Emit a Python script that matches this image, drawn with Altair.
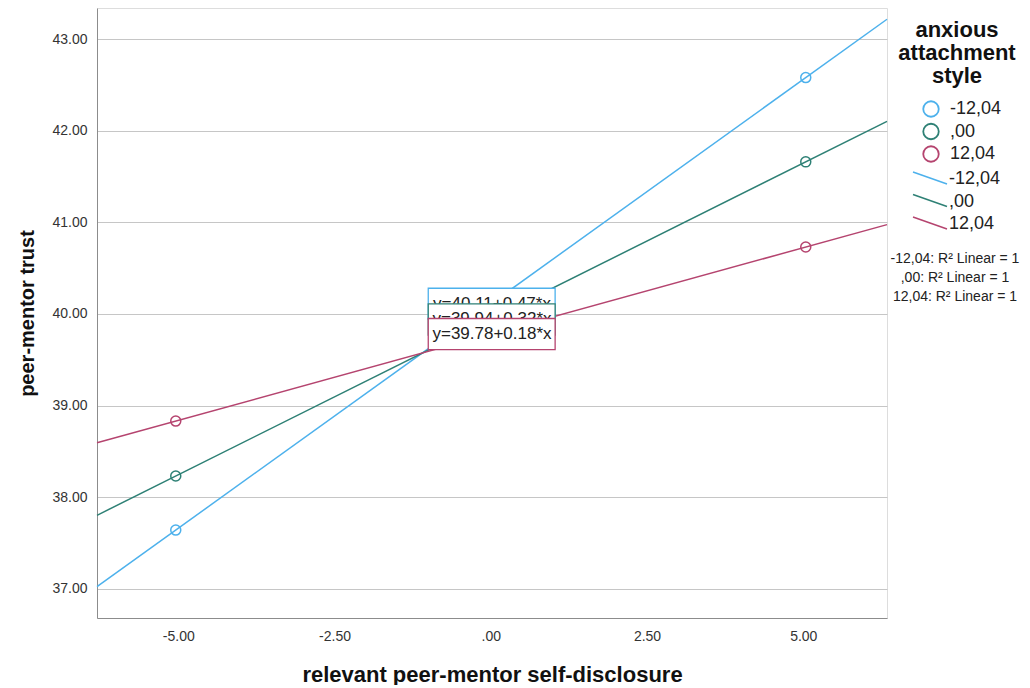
import altair as alt
import pandas as pd

# ---- data ----
groups = ["-12,04", ",00", "12,04"]
colors = ["#4DB1EC", "#2E8075", "#B5446F"]
x_points = [-5.04, 5.04]
y_low = [37.64, 38.23, 38.83]
y_high = [42.58, 41.66, 40.73]
intercepts = [40.11, 39.94, 39.78]
eq_labels = ["y=40.11+0.47*x", "y=39.94+0.32*x", "y=39.78+0.18*x"]
r2_labels = ["-12,04: R² Linear = 1", ",00: R² Linear = 1", "12,04: R² Linear = 1"]
legend_title = ["anxious", "attachment", "style"]
x_ticks = [-5.0, -2.5, 0.0, 2.5, 5.0]
y_ticks = [37, 38, 39, 40, 41, 42, 43]

X_DOMAIN = [-6.3, 6.34]
Y_DOMAIN = [36.68, 43.34]
FONT = "Liberation Sans"

rows = []
for g, lo, hi in zip(groups, y_low, y_high):
    rows.append({"group": g, "x": x_points[0], "y": lo})
    rows.append({"group": g, "x": x_points[1], "y": hi})
pts = pd.DataFrame(rows)

xs = alt.Scale(domain=X_DOMAIN, nice=False, zero=False)
ys = alt.Scale(domain=Y_DOMAIN, nice=False, zero=False)
cs = alt.Scale(domain=groups, range=colors)

x_axis = alt.Axis(
    values=x_ticks,
    labelExpr="datum.value == 0 ? '.00' : (datum.value < 0 ? '-' + format(-datum.value, '.2f') : format(datum.value, '.2f'))",
    grid=False, ticks=False, labelPadding=11, labelFontSize=14,
    labelColor="#333333", domainColor="#8c8c8c",
    title="relevant peer-mentor self-disclosure", titleFontSize=22,
    titleFontWeight="bold", titleColor="#111111", titlePadding=21,
)
y_axis = alt.Axis(
    values=y_ticks, format=".2f", grid=True, gridColor="#c6c6c6",
    ticks=False, labelPadding=10, labelFontSize=14, labelColor="#333333",
    domainColor="#8c8c8c",
    title="peer-mentor trust", titleFontSize=20, titleFontWeight="bold",
    titleColor="#111111", titlePadding=14,
)

base = alt.Chart(pts).encode(
    x=alt.X("x:Q", scale=xs, axis=x_axis),
    y=alt.Y("y:Q", scale=ys, axis=y_axis),
    color=alt.Color("group:N", scale=cs, legend=None),
)

lines = base.transform_regression(
    "x", "y", groupby=["group"], extent=X_DOMAIN
).mark_line(strokeWidth=1.5)

points = base.mark_point(filled=False, size=100, strokeWidth=1.5, opacity=1)

layers = [lines, points]

# equation boxes, centred on (0, intercept)
for g, c, b, lab in zip(groups, colors, intercepts, eq_labels):
    bdf = pd.DataFrame({"x": [-1.0], "x2": [1.03], "y": [b - 0.17],
                        "y2": [b + 0.17], "xt": [0.02], "yt": [b], "label": [lab]})
    rect = alt.Chart(bdf).mark_rect(fill="white", stroke=c, strokeWidth=1.3).encode(
        x=alt.X("x:Q", scale=xs), x2="x2:Q",
        y=alt.Y("y:Q", scale=ys), y2="y2:Q",
    )
    txt = alt.Chart(bdf).mark_text(fontSize=17, font=FONT, color="#222222").encode(
        x=alt.X("xt:Q", scale=xs), y=alt.Y("yt:Q", scale=ys), text="label:N"
    )
    layers += [rect, txt]

# ---- legend (drawn to the right of the plot area) ----
title_baselines = [29, 52, 75]
for t, by in zip(legend_title, title_baselines):
    layers.append(
        alt.Chart(pd.DataFrame({"t": [t]})).mark_text(
            fontSize=22, fontWeight="bold", font=FONT, color="#111111",
            align="center", baseline="alphabetic"
        ).encode(x=alt.value(860), y=alt.value(by), text="t:N")
    )

for i, (g, c) in enumerate(zip(groups, colors)):
    cy = 101 + 22.5 * i
    layers.append(
        alt.Chart(pd.DataFrame({"t": [g]})).mark_point(
            shape="circle", filled=False, size=240, strokeWidth=1.8, color=c, opacity=1
        ).encode(x=alt.value(834), y=alt.value(cy))
    )
    layers.append(
        alt.Chart(pd.DataFrame({"t": [g]})).mark_text(
            fontSize=18, font=FONT, color="#222222", align="left", baseline="middle"
        ).encode(x=alt.value(853), y=alt.value(cy), text="t:N")
    )

for i, (g, c) in enumerate(zip(groups, colors)):
    ly = 171 + 22.5 * i
    layers.append(
        alt.Chart(pd.DataFrame({"t": [g]})).mark_rule(color=c, strokeWidth=1.5).encode(
            x=alt.value(816), x2=alt.value(850),
            y=alt.value(ly - 7), y2=alt.value(ly + 5),
        )
    )
    layers.append(
        alt.Chart(pd.DataFrame({"t": [g]})).mark_text(
            fontSize=18, font=FONT, color="#222222", align="left", baseline="middle"
        ).encode(x=alt.value(852), y=alt.value(ly), text="t:N")
    )

for i, t in enumerate(r2_labels):
    layers.append(
        alt.Chart(pd.DataFrame({"t": [t]})).mark_text(
            fontSize=14, font=FONT, color="#222222", align="center", baseline="middle"
        ).encode(x=alt.value(858), y=alt.value(251 + 19 * i), text="t:N")
    )

chart = alt.layer(*layers).properties(
    width=790, height=610,
    padding={"left": 9, "top": 0, "right": 0, "bottom": 0},
).configure_view(stroke=None).configure(font=FONT)

chart.save("out.html", embed_options={"renderer": "svg", "actions": False})
